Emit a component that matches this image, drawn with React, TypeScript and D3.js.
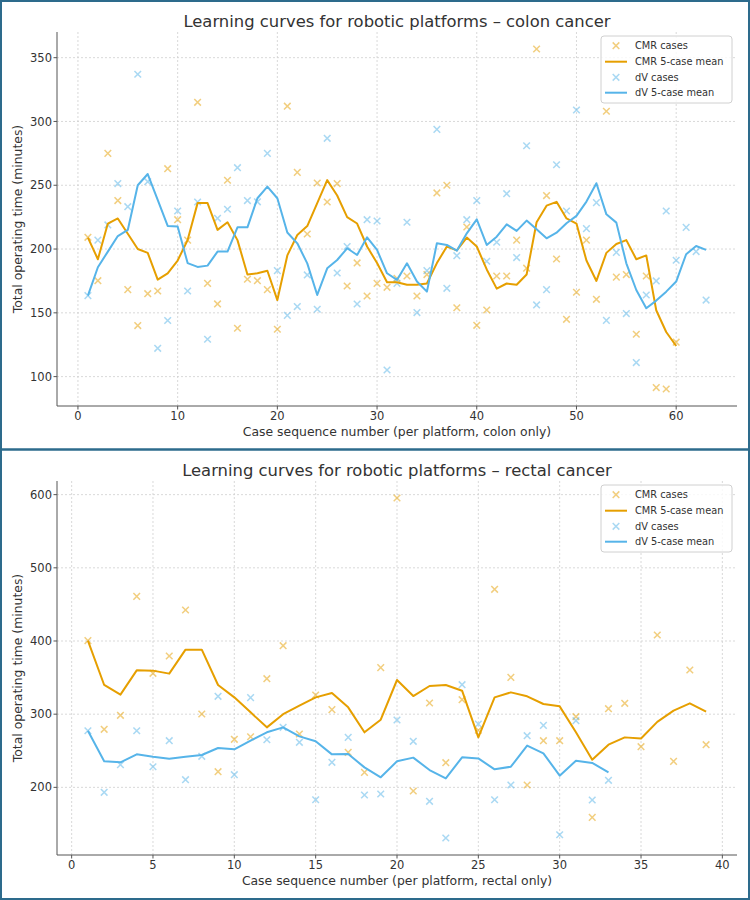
import * as d3 from "d3";

// Colon cancer: operating times per case (minutes), per platform
const COLON_CMR_CASES = [
  209.2, 175.2, 275, 238, 168.2, 140, 165, 167.1, 263, 223,
  207, 315, 173.1, 157, 253.9, 137.9, 176.3, 175.2, 168.2, 137.1,
  312, 260.1, 211.8, 251.8, 236.9, 251.3, 171, 189.1, 163.2, 173.1,
  170, 177, 178.9, 163.2, 180, 244, 250, 154, 217.3, 140.2,
  152.2, 178.9, 178.9, 207, 185, 356.8, 241.9, 192.2, 144.9, 166.1,
  207, 160.6, 308, 178, 180, 133.2, 178.9, 91.4, 90.3, 127,
];
const COLON_CMR_MEAN = [
  209, 192, 220, 224, 212, 200, 197, 176, 181, 191,
  207, 236, 236, 215, 221, 207, 180, 181, 183, 160,
  195, 211, 218, 236, 254, 242, 225, 220, 202, 189,
  174, 174, 172, 172, 173, 189, 202, 199, 209, 202,
  184, 169, 173, 172, 180, 221, 234, 237, 224, 220,
  191, 175, 197, 204, 207, 192, 195, 152, 135, 124,
];
const COLON_DV_CASES = [
  163.5, 207, 218.9, 251.3, 233.2, 337, 252.8, 122.2, 144, 229.8,
  167.1, 236.9, 129.3, 224.1, 231.2, 263.8, 238, 237, 275, 183.1,
  148, 154.9, 179.7, 152.8, 286.8, 181.2, 202, 156.9, 223, 222,
  105.2, 173.1, 221, 150.2, 183.1, 293.8, 169.2, 194.8, 223, 238,
  190.4, 205.3, 243.4, 193.3, 281, 156.2, 168.2, 266.1, 229.8, 309,
  216, 236.4, 144.1, 197.4, 149.4, 111, 164, 175, 229.8, 191.2,
  217, 198, 160,
];
const COLON_DV_MEAN = [
  163.5, 185.7, 198, 210.2, 215, 250, 258.8, 238.5, 218.1, 217.6,
  189, 186, 187, 198, 198, 217, 217, 239.8, 249, 239.8,
  213, 204.5, 188.8, 164, 184.9, 191.4, 200.6, 195.3, 209.2, 199.3,
  181, 175.8, 188.8, 174.5, 166.6, 204.5, 203.2, 198.7, 212.3, 223.3,
  203.2, 209.7, 219.4, 214.2, 222.3, 215.5, 208.4, 212.8, 220.2, 226,
  237.2, 251.6, 227.2, 220.7, 188.8, 167.9, 153.6, 159.6, 166.6, 174.5,
  195.9, 202.4, 199.3,
];

// Rectal cancer
const RECTAL_CMR_CASES = [
  400.5, 279.3, 298.4, 461, 355.8, 379.5, 442.4, 300.2, 221.4, 265.6,
  269.2, 348.5, 393.6, 272.9, 326.2, 306.2, 247.8, 220.5, 363.6, 595.4,
  195, 315.3, 233.7, 319.8, 278, 470.6, 350.3, 203.2, 263.8, 263.8,
  296.6, 159, 307.5, 314.8, 255.6, 408.2, 235.5, 360.4, 258.3,
];
const RECTAL_CMR_MEAN = [
  400.5, 339.9, 326.7, 359.9, 359.5, 355.4, 388.2, 388.2, 339.9, 323,
  302.5, 282, 300, 311.6, 323, 328.9, 309.3, 275.2, 292.5, 346.7,
  324.8, 338.5, 339.9, 332.1, 268.3, 323, 329.8, 324.4, 313.9, 310.7,
  275.2, 237.8, 258.3, 268.3, 266.7, 289.5, 304.8, 314.8, 303.4,
];
const RECTAL_DV_CASES = [
  277.4, 193.2, 231, 277.4, 228.2, 263.8, 210.5, 242.4, 324.4, 217.3,
  322.6, 265.1, 282, 261.5, 183.1, 234.2, 268.3, 189.5, 190.9, 292,
  262.9, 180.9, 130.8, 340.3, 286.6, 183.1, 203.2, 270.6, 284.7, 135.3,
  291.1, 182.7, 209.6,
];
const RECTAL_DV_MEAN = [
  277.4, 235.6, 234.2, 245.1, 241.9, 239.2, 241.9, 244.2, 253.8, 252,
  263.8, 275.2, 282, 269.7, 262.9, 245.1, 245.6, 227.3, 213.7, 235.6,
  240.6, 223.7, 212.3, 241, 239.6, 224.6, 228.2, 257, 246.5, 216,
  236.4, 233.3, 220.5,
];

const COLON_X_TICKS = [0, 10, 20, 30, 40, 50, 60];
const COLON_Y_TICKS = [100, 150, 200, 250, 300, 350];
const RECTAL_X_TICKS = [0, 5, 10, 15, 20, 25, 30, 35, 40];
const RECTAL_Y_TICKS = [200, 300, 400, 500, 600];

const LEGEND_LABELS = ["CMR cases", "CMR 5-case mean", "dV cases", "dV 5-case mean"];

const CMR = "#E69F00";
const DV = "#56B4E9";
const TEXT = "#333333";
const SPINE = "#555555";
const FRAME = "#2d6b8c";
const FONT = "DejaVu Sans, sans-serif";

type PanelProps = {
  top: number;
  bottom: number;
  title: string;
  xLabel: string;
  cmrCases: number[];
  cmrMean: number[];
  dvCases: number[];
  dvMean: number[];
  xTicks: number[];
  yTicks: number[];
};

const LEFT = 57;
const RIGHT = 737;

function cross(x: number, y: number, r: number) {
  return `M${x - r},${y - r}L${x + r},${y + r}M${x - r},${y + r}L${x + r},${y - r}`;
}

function Panel(p: PanelProps) {
  const n = Math.max(p.cmrCases.length, p.dvCases.length);
  const xPad = (n - 1) * 0.05;
  const x = d3.scaleLinear().domain([1 - xPad, n + xPad]).range([LEFT, RIGHT]);

  const all = [...p.cmrCases, ...p.dvCases, ...p.cmrMean, ...p.dvMean];
  const [lo, hi] = d3.extent(all) as [number, number];
  const yPad = (hi - lo) * 0.05;
  const y = d3.scaleLinear().domain([lo - yPad, hi + yPad]).range([p.bottom, p.top]);

  const line = d3
    .line<number>()
    .x((_, i) => x(i + 1))
    .y((d) => y(d));

  const midX = (LEFT + RIGHT) / 2;
  const midY = (p.top + p.bottom) / 2;

  // legend box, anchored to the upper right of the axes
  const lgX = RIGHT - 136;
  const lgY = p.top + 4;
  const rowY = [9.7, 25.7, 41.3, 56.7];

  return (
    <g fontFamily={FONT}>
      <text x={midX} y={p.top - 5.5} textAnchor="middle" fontSize={16.4} fill={TEXT}>
        {p.title}
      </text>

      {/* grid */}
      <g stroke="#cfcfcf" strokeWidth={0.8} strokeDasharray="2,2">
        {p.xTicks.map((t) => (
          <line key={`gx${t}`} x1={x(t)} x2={x(t)} y1={p.top} y2={p.bottom} />
        ))}
        {p.yTicks.map((t) => (
          <line key={`gy${t}`} x1={LEFT} x2={RIGHT} y1={y(t)} y2={y(t)} />
        ))}
      </g>

      {/* scatter */}
      <g stroke={CMR} strokeWidth={1.5} opacity={0.5} fill="none">
        {p.cmrCases.map((v, i) => (
          <path key={i} d={cross(x(i + 1), y(v), 3.3)} />
        ))}
      </g>
      <g stroke={DV} strokeWidth={1.5} opacity={0.5} fill="none">
        {p.dvCases.map((v, i) => (
          <path key={i} d={cross(x(i + 1), y(v), 3.3)} />
        ))}
      </g>

      {/* rolling means */}
      <path d={line(p.cmrMean) ?? ""} fill="none" stroke={CMR} strokeWidth={2} strokeLinejoin="round" />
      <path d={line(p.dvMean) ?? ""} fill="none" stroke={DV} strokeWidth={2} strokeLinejoin="round" />

      {/* spines */}
      <line x1={LEFT} x2={LEFT} y1={p.top} y2={p.bottom} stroke={SPINE} strokeWidth={1} />
      <line x1={LEFT} x2={RIGHT} y1={p.bottom} y2={p.bottom} stroke={SPINE} strokeWidth={1} />

      {/* ticks */}
      {p.xTicks.map((t) => (
        <g key={`tx${t}`}>
          <line x1={x(t)} x2={x(t)} y1={p.bottom} y2={p.bottom + 3.5} stroke={SPINE} />
          <text x={x(t)} y={p.bottom + 14} textAnchor="middle" fontSize={11.5} fill={TEXT}>
            {t}
          </text>
        </g>
      ))}
      {p.yTicks.map((t) => (
        <g key={`ty${t}`}>
          <line x1={LEFT - 3.5} x2={LEFT} y1={y(t)} y2={y(t)} stroke={SPINE} />
          <text x={LEFT - 5} y={y(t)} dy="0.36em" textAnchor="end" fontSize={11.5} fill={TEXT}>
            {t}
          </text>
        </g>
      ))}

      <text x={midX} y={p.bottom + 30} textAnchor="middle" fontSize={12.4} fill={TEXT}>
        {p.xLabel}
      </text>
      <text
        transform={`translate(22,${midY}) rotate(-90)`}
        textAnchor="middle"
        fontSize={12.4}
        fill={TEXT}
      >
        Total operating time (minutes)
      </text>

      {/* legend */}
      <g transform={`translate(${lgX},${lgY})`}>
        <rect width={131} height={67} rx={3} fill="#ffffff" fillOpacity={0.8} stroke="#d0d0d0" strokeWidth={1} />
        {LEGEND_LABELS.map((label, i) => {
          const color = i < 2 ? CMR : DV;
          const ry = rowY[i];
          return (
            <g key={label}>
              {i % 2 === 0 ? (
                <path d={cross(15, ry, 3.3)} stroke={color} strokeWidth={1.5} opacity={0.5} />
              ) : (
                <line x1={4} x2={26} y1={ry} y2={ry} stroke={color} strokeWidth={2} />
              )}
              <text x={34} y={ry} dy="0.36em" fontSize={9.8} fill={TEXT}>
                {label}
              </text>
            </g>
          );
        })}
      </g>
    </g>
  );
}

export default function App() {
  return (
    <svg
      width={750}
      height={900}
      style={{ position: "absolute", left: 0, top: 0, background: "#fff" }}
    >
      <rect x={0} y={0} width={750} height={900} fill="#ffffff" />
      <Panel
        top={32}
        bottom={406}
        title="Learning curves for robotic platforms – colon cancer"
        xLabel="Case sequence number (per platform, colon only)"
        cmrCases={COLON_CMR_CASES}
        cmrMean={COLON_CMR_MEAN}
        dvCases={COLON_DV_CASES}
        dvMean={COLON_DV_MEAN}
        xTicks={COLON_X_TICKS}
        yTicks={COLON_Y_TICKS}
      />
      <Panel
        top={481}
        bottom={855}
        title="Learning curves for robotic platforms – rectal cancer"
        xLabel="Case sequence number (per platform, rectal only)"
        cmrCases={RECTAL_CMR_CASES}
        cmrMean={RECTAL_CMR_MEAN}
        dvCases={RECTAL_DV_CASES}
        dvMean={RECTAL_DV_MEAN}
        xTicks={RECTAL_X_TICKS}
        yTicks={RECTAL_Y_TICKS}
      />
      {/* panel frames */}
      <rect x={1} y={1} width={748} height={898} fill="none" stroke={FRAME} strokeWidth={2} />
      <line x1={0} x2={750} y1={449.5} y2={449.5} stroke={FRAME} strokeWidth={2.4} />
    </svg>
  );
}
